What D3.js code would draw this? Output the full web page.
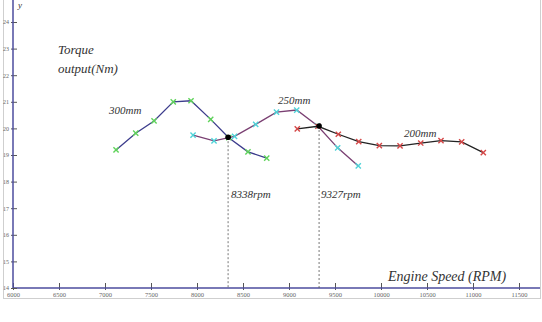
<!DOCTYPE html>
<html>
<head>
<meta charset="utf-8">
<script src="https://cdn.jsdelivr.net/npm/d3@7.9.0/dist/d3.min.js"></script>
<style>
  body { margin: 0; background: #fff; }
  svg { display: block; }
</style>
</head>
<body>
<div id="chart"></div>
<script>
// data
const rpm300 = [7120, 7334, 7533, 7742, 7935, 8149, 8345, 8554, 8758];
const tq300 = [19.19, 19.82, 20.28, 21.0, 21.04, 20.34, 19.65, 19.12, 18.88];

const rpm250 = [7957, 8185, 8408, 8638, 8864, 9084, 9310, 9529, 9753];
const tq250 = [19.75, 19.53, 19.70, 20.15, 20.61, 20.69, 20.10, 19.27, 18.59];

const rpm200 = [9090, 9315, 9536, 9758, 9982, 10207, 10432, 10652, 10877, 11112];
const tq200 = [19.98, 20.08, 19.78, 19.50, 19.35, 19.34, 19.45, 19.54, 19.49, 19.09];

const crossRpm = [8338, 9327];
const crossTq = [19.67, 20.09];

const xTicks = [6000, 6500, 7000, 7500, 8000, 8500, 9000, 9500, 10000, 10500, 11000, 11500];
const yTicks = [14, 15, 16, 17, 18, 19, 20, 21, 22, 23, 24];

const serif = '"Liberation Serif", "Times New Roman", "DejaVu Serif", serif';
const width = 542;
const height = 322;

const svg = d3.select('#chart').append('svg')
  .attr('width', width)
  .attr('height', height);

const xScale = d3.scaleLinear().domain([6000, 11500]).range([13, 519]);
const yScale = d3.scaleLinear().domain([14, 24]).range([288, 22]);

// frame
svg.append('rect')
  .attr('x', 3.5).attr('y', -2)
  .attr('width', 537).attr('height', 300.5)
  .attr('fill', 'none').attr('stroke', '#cfcfcf').attr('stroke-width', 1);

const axisColor = '#4d4d9e';

// x axis
const xAxis = svg.append('g')
  .attr('transform', `translate(0, ${yScale(14)})`)
  .call(d3.axisBottom(xScale).tickValues(xTicks).tickSize(2).tickPadding(2).tickFormat(d3.format('d')));
xAxis.attr('font-family', serif);
xAxis.select('.domain').remove();
xAxis.append('line')
  .attr('x1', xScale(6000)).attr('x2', 540)
  .attr('stroke', axisColor).attr('stroke-width', 1.5);
xAxis.selectAll('.tick line').attr('y1', -5).attr('y2', 2).attr('stroke', '#555');
xAxis.selectAll('.tick text').attr('font-size', 6.5).attr('fill', '#666');

// y axis
const yAxis = svg.append('g')
  .attr('transform', `translate(${xScale(6000)}, 0)`)
  .call(d3.axisLeft(yScale).tickValues(yTicks).tickSize(2).tickPadding(2));
yAxis.attr('font-family', serif);
yAxis.select('.domain').remove();
yAxis.append('line')
  .attr('y1', 0).attr('y2', yScale(14))
  .attr('stroke', axisColor).attr('stroke-width', 1.5);
yAxis.selectAll('.tick line').attr('x1', -2).attr('x2', 4).attr('stroke', '#555');
yAxis.selectAll('.tick text').attr('font-size', 6).attr('fill', '#666');

// drop lines at crossings
svg.append('g').selectAll('line')
  .data(crossRpm)
  .join('line')
  .attr('x1', (d) => xScale(d)).attr('x2', (d) => xScale(d))
  .attr('y1', (d, i) => yScale(crossTq[i]))
  .attr('y2', yScale(14))
  .attr('stroke', '#555').attr('stroke-width', 0.8)
  .attr('stroke-dasharray', '2,2');

const series = [
  { rpm: rpm300, tq: tq300, line: '#3c3c8c', mark: '#5fd35a' },
  { rpm: rpm250, tq: tq250, line: '#7a3f72', mark: '#4fd3d8' },
  { rpm: rpm200, tq: tq200, line: '#222', mark: '#d54848' },
];

const line = d3.line()
  .x((d) => xScale(d[0]))
  .y((d) => yScale(d[1]));

series.forEach((s) => {
  const pts = s.rpm.map((r, i) => [r, s.tq[i]]);
  svg.append('path')
    .datum(pts)
    .attr('d', line)
    .attr('fill', 'none')
    .attr('stroke', s.line)
    .attr('stroke-width', 1.3);
  const m = svg.append('g');
  m.selectAll('path')
    .data(pts)
    .join('path')
    .attr('transform', (d) => `translate(${xScale(d[0])}, ${yScale(d[1])})`)
    .attr('d', 'M-2.6,-2.6L2.6,2.6M-2.6,2.6L2.6,-2.6')
    .attr('stroke', s.mark)
    .attr('stroke-width', 1.4);
});

// crossing dots
svg.append('g').selectAll('circle')
  .data(crossRpm)
  .join('circle')
  .attr('cx', (d) => xScale(d))
  .attr('cy', (d, i) => yScale(crossTq[i]))
  .attr('r', 2.8)
  .attr('fill', '#000');

// labels
const labels = [
  { t: 'y', x: 18, y: 8, s: 9 },
  { t: 'Torque', x: 58, y: 54, s: 13 },
  { t: 'output(Nm)', x: 58, y: 73, s: 13 },
  { t: '300mm', x: 109, y: 114, s: 11 },
  { t: '250mm', x: 278, y: 104, s: 11 },
  { t: '200mm', x: 404, y: 137, s: 11 },
  { t: '8338rpm', x: 231, y: 198, s: 11 },
  { t: '9327rpm', x: 321, y: 198, s: 11 },
  { t: 'Engine Speed (RPM)', x: 388, y: 281, s: 14 },
];
svg.append('g').selectAll('text')
  .data(labels)
  .join('text')
  .attr('x', (d) => d.x)
  .attr('y', (d) => d.y)
  .attr('font-family', serif)
  .attr('font-style', 'italic')
  .attr('fill', '#333')
  .attr('font-size', (d) => d.s)
  .text((d) => d.t);
</script>
</body>
</html>
